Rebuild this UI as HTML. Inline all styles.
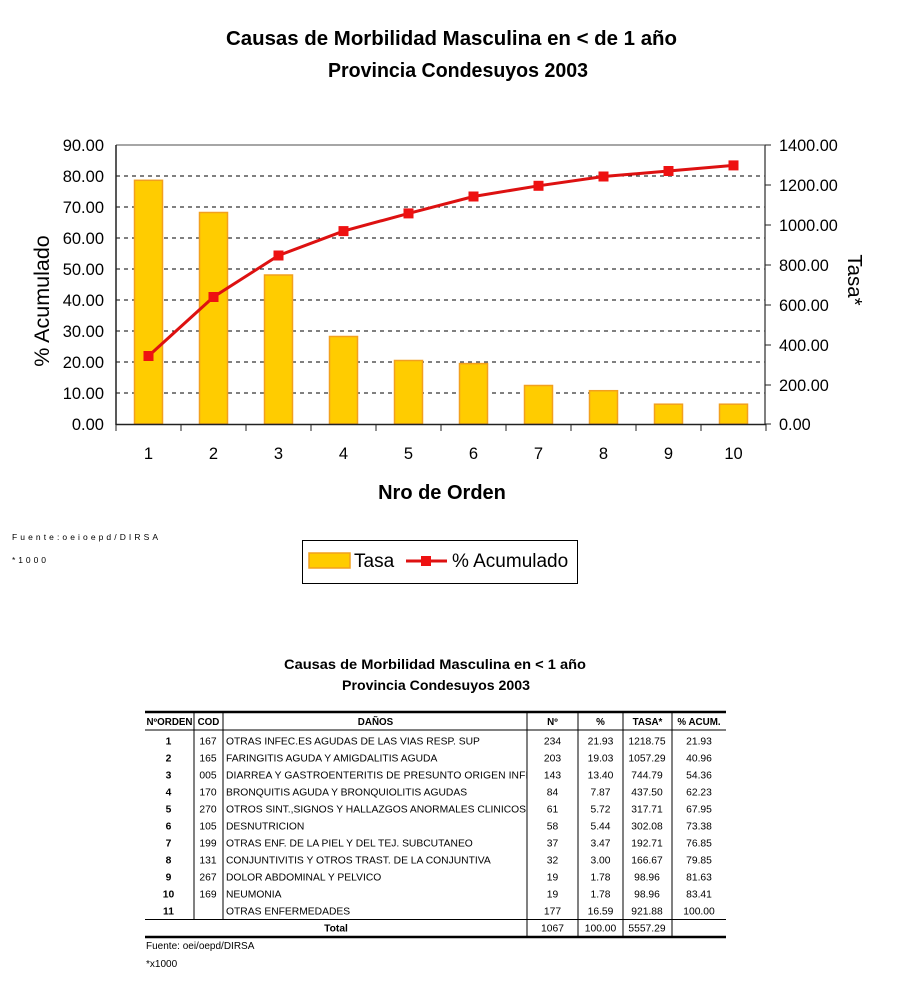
<!DOCTYPE html>
<html><head><meta charset="utf-8"><style>
html,body{margin:0;padding:0;background:#fff;}
svg{display:block;font-family:"Liberation Sans",Arial,sans-serif;}
</style></head><body>
<svg width="900" height="1000" viewBox="0 0 900 1000" xmlns="http://www.w3.org/2000/svg">
<rect width="900" height="1000" fill="#fff"/>
<!-- Titles -->
<text x="226" y="45" font-size="20" font-weight="bold" textLength="451" lengthAdjust="spacingAndGlyphs">Causas de Morbilidad Masculina en &lt; de 1 año</text>
<text x="328" y="77" font-size="20" font-weight="bold" textLength="260" lengthAdjust="spacingAndGlyphs">Provincia Condesuyos 2003</text>

<!-- gridlines -->
<g stroke="#000" stroke-width="1" stroke-dasharray="4,4">
<line x1="116" y1="176" x2="765" y2="176"/>
<line x1="116" y1="207" x2="765" y2="207"/>
<line x1="116" y1="238" x2="765" y2="238"/>
<line x1="116" y1="269" x2="765" y2="269"/>
<line x1="116" y1="300" x2="765" y2="300"/>
<line x1="116" y1="331" x2="765" y2="331"/>
<line x1="116" y1="362" x2="765" y2="362"/>
<line x1="116" y1="393" x2="765" y2="393"/>
</g>
<!-- plot border -->
<line x1="116" y1="145" x2="765" y2="145" stroke="#888" stroke-width="1.5"/>
<line x1="765" y1="145" x2="765" y2="425" stroke="#555" stroke-width="1.5"/>

<!-- bars -->
<g fill="#ffcc00" stroke="#f2a01e" stroke-width="1.5">
<rect x="134.5" y="180.3" width="28" height="243.7"/>
<rect x="199.5" y="212.5" width="28" height="211.5"/>
<rect x="264.5" y="275" width="28" height="149"/>
<rect x="329.5" y="336.5" width="28" height="87.5"/>
<rect x="394.5" y="360.5" width="28" height="63.5"/>
<rect x="459.5" y="363.6" width="28" height="60.4"/>
<rect x="524.5" y="385.5" width="28" height="38.5"/>
<rect x="589.5" y="390.7" width="28" height="33.3"/>
<rect x="654.5" y="404.2" width="28" height="19.8"/>
<rect x="719.5" y="404.2" width="28" height="19.8"/>
</g>

<!-- axes -->
<line x1="116" y1="145" x2="116" y2="425" stroke="#222" stroke-width="1.5"/>
<line x1="116" y1="424.5" x2="766" y2="424.5" stroke="#222" stroke-width="1.5"/>
<g stroke="#222" stroke-width="1">
<line x1="116" y1="424" x2="116" y2="431"/>
<line x1="181" y1="424" x2="181" y2="431"/>
<line x1="246" y1="424" x2="246" y2="431"/>
<line x1="311" y1="424" x2="311" y2="431"/>
<line x1="376" y1="424" x2="376" y2="431"/>
<line x1="441" y1="424" x2="441" y2="431"/>
<line x1="506" y1="424" x2="506" y2="431"/>
<line x1="571" y1="424" x2="571" y2="431"/>
<line x1="636" y1="424" x2="636" y2="431"/>
<line x1="701" y1="424" x2="701" y2="431"/>
<line x1="766" y1="424" x2="766" y2="431"/>
<line x1="765" y1="145" x2="771" y2="145"/>
<line x1="765" y1="185" x2="771" y2="185"/>
<line x1="765" y1="225" x2="771" y2="225"/>
<line x1="765" y1="265" x2="771" y2="265"/>
<line x1="765" y1="305" x2="771" y2="305"/>
<line x1="765" y1="345" x2="771" y2="345"/>
<line x1="765" y1="385" x2="771" y2="385"/>
<line x1="765" y1="424" x2="771" y2="424"/>
</g>

<!-- line series -->
<polyline fill="none" stroke="#dd1111" stroke-width="3" points="148.5,356 213.5,297 278.5,255.5 343.5,231.1 408.5,213.4 473.5,196.5 538.5,185.8 603.5,176.5 668.5,171 733.5,165.4"/>
<g fill="#ee1111">
<rect x="143.5" y="351" width="10" height="10"/>
<rect x="208.5" y="292" width="10" height="10"/>
<rect x="273.5" y="250.5" width="10" height="10"/>
<rect x="338.5" y="226.1" width="10" height="10"/>
<rect x="403.5" y="208.4" width="10" height="10"/>
<rect x="468.5" y="191.5" width="10" height="10"/>
<rect x="533.5" y="180.8" width="10" height="10"/>
<rect x="598.5" y="171.5" width="10" height="10"/>
<rect x="663.5" y="166" width="10" height="10"/>
<rect x="728.5" y="160.4" width="10" height="10"/>
</g>

<!-- left tick labels -->
<g font-size="16.5" text-anchor="end">
<text x="104" y="151">90.00</text>
<text x="104" y="182">80.00</text>
<text x="104" y="213">70.00</text>
<text x="104" y="244">60.00</text>
<text x="104" y="275">50.00</text>
<text x="104" y="306">40.00</text>
<text x="104" y="337">30.00</text>
<text x="104" y="368">20.00</text>
<text x="104" y="399">10.00</text>
<text x="104" y="430">0.00</text>
</g>
<!-- right tick labels -->
<g font-size="16.3">
<text x="779" y="151">1400.00</text>
<text x="779" y="191">1200.00</text>
<text x="779" y="231">1000.00</text>
<text x="779" y="271">800.00</text>
<text x="779" y="311">600.00</text>
<text x="779" y="351">400.00</text>
<text x="779" y="391">200.00</text>
<text x="779" y="430">0.00</text>
</g>
<!-- x labels -->
<g font-size="16.5" text-anchor="middle">
<text x="148.5" y="459">1</text>
<text x="213.5" y="459">2</text>
<text x="278.5" y="459">3</text>
<text x="343.5" y="459">4</text>
<text x="408.5" y="459">5</text>
<text x="473.5" y="459">6</text>
<text x="538.5" y="459">7</text>
<text x="603.5" y="459">8</text>
<text x="668.5" y="459">9</text>
<text x="733.5" y="459">10</text>
</g>
<text x="442" y="499" font-size="20" font-weight="bold" text-anchor="middle">Nro de Orden</text>
<text transform="translate(49,301) rotate(-90)" font-size="21.5" text-anchor="middle">% Acumulado</text>
<text transform="translate(848,280) rotate(90)" font-size="20.5" text-anchor="middle">Tasa*</text>

<!-- source notes -->
<text x="12" y="540" font-size="8.5" textLength="146" lengthAdjust="spacing">Fuente:oeioepd/DIRSA</text>
<text x="12" y="563" font-size="8.5" textLength="34" lengthAdjust="spacing">*1000</text>

<!-- legend -->
<rect x="302.5" y="540.5" width="275" height="43" fill="#fff" stroke="#000" stroke-width="1"/>
<rect x="309" y="553" width="41" height="15" fill="#ffcc00" stroke="#f2a01e" stroke-width="1.5"/>
<text x="354" y="567" font-size="19">Tasa</text>
<line x1="406" y1="561" x2="447" y2="561" stroke="#dd1111" stroke-width="3"/>
<rect x="421" y="556" width="10" height="10" fill="#ee1111"/>
<text x="452" y="567" font-size="19">% Acumulado</text>

<!-- Table titles -->
<text x="284" y="669" font-size="14" font-weight="bold" textLength="302" lengthAdjust="spacingAndGlyphs">Causas de Morbilidad Masculina en &lt; 1 año</text>
<text x="342" y="690" font-size="14" font-weight="bold" textLength="188" lengthAdjust="spacingAndGlyphs">Provincia Condesuyos 2003</text>

<defs><clipPath id="dc"><rect x="224" y="700" width="302.5" height="230"/></clipPath></defs>

<!-- table lines -->
<line x1="145" y1="712" x2="726" y2="712" stroke="#000" stroke-width="2.5"/>
<line x1="145" y1="730" x2="726" y2="730" stroke="#000" stroke-width="1"/>
<line x1="145" y1="919.5" x2="726" y2="919.5" stroke="#000" stroke-width="1"/>
<line x1="145" y1="937" x2="726" y2="937" stroke="#000" stroke-width="2.5"/>
<g stroke="#000" stroke-width="1">
<line x1="194" y1="713" x2="194" y2="919.5"/>
<line x1="223" y1="713" x2="223" y2="919.5"/>
<line x1="527" y1="713" x2="527" y2="936"/>
<line x1="578" y1="713" x2="578" y2="936"/>
<line x1="623" y1="713" x2="623" y2="936"/>
<line x1="672" y1="713" x2="672" y2="936"/>
</g>

<!-- header -->
<g font-size="9.8" font-weight="bold" text-anchor="middle">
<text x="169.5" y="725">NºORDEN</text>
<text x="208.5" y="725">COD</text>
<text x="375.5" y="725">DAÑOS</text>
<text x="552.5" y="725">Nº</text>
<text x="600.5" y="725">%</text>
<text x="647.5" y="725">TASA*</text>
<text x="699" y="725">% ACUM.</text>
</g>

<!-- rows -->
<g font-size="10.3" font-weight="bold" text-anchor="middle">
<text x="168.5" y="744.7">1</text>
<text x="168.5" y="761.7">2</text>
<text x="168.5" y="778.7">3</text>
<text x="168.5" y="795.7">4</text>
<text x="168.5" y="812.7">5</text>
<text x="168.5" y="829.7">6</text>
<text x="168.5" y="846.7">7</text>
<text x="168.5" y="863.7">8</text>
<text x="168.5" y="880.7">9</text>
<text x="168.5" y="897.7">10</text>
<text x="168.5" y="914.7">11</text>
</g>
<g font-size="10.3" text-anchor="middle">
<text x="208" y="744.7">167</text>
<text x="208" y="761.7">165</text>
<text x="208" y="778.7">005</text>
<text x="208" y="795.7">170</text>
<text x="208" y="812.7">270</text>
<text x="208" y="829.7">105</text>
<text x="208" y="846.7">199</text>
<text x="208" y="863.7">131</text>
<text x="208" y="880.7">267</text>
<text x="208" y="897.7">169</text>
</g>
<g font-size="10.3" clip-path="url(#dc)">
<text x="226" y="744.7">OTRAS INFEC.ES AGUDAS DE LAS VIAS RESP. SUP</text>
<text x="226" y="761.7">FARINGITIS AGUDA Y AMIGDALITIS AGUDA</text>
<text x="226" y="778.7" letter-spacing="0.1">DIARREA Y GASTROENTERITIS DE PRESUNTO ORIGEN INFECCIOSO</text>
<text x="226" y="795.7">BRONQUITIS AGUDA Y BRONQUIOLITIS AGUDAS</text>
<text x="226" y="812.7">OTROS SINT.,SIGNOS Y HALLAZGOS ANORMALES CLINICOS</text>
<text x="226" y="829.7">DESNUTRICION</text>
<text x="226" y="846.7">OTRAS ENF. DE LA PIEL Y DEL TEJ. SUBCUTANEO</text>
<text x="226" y="863.7">CONJUNTIVITIS Y OTROS TRAST. DE LA CONJUNTIVA</text>
<text x="226" y="880.7">DOLOR ABDOMINAL Y PELVICO</text>
<text x="226" y="897.7">NEUMONIA</text>
<text x="226" y="914.7">OTRAS ENFERMEDADES</text>
</g>
<g font-size="10.3" text-anchor="middle">
<text x="552.5" y="744.7">234</text><text x="600.5" y="744.7">21.93</text><text x="647" y="744.7">1218.75</text><text x="699" y="744.7">21.93</text>
<text x="552.5" y="761.7">203</text><text x="600.5" y="761.7">19.03</text><text x="647" y="761.7">1057.29</text><text x="699" y="761.7">40.96</text>
<text x="552.5" y="778.7">143</text><text x="600.5" y="778.7">13.40</text><text x="647" y="778.7">744.79</text><text x="699" y="778.7">54.36</text>
<text x="552.5" y="795.7">84</text><text x="600.5" y="795.7">7.87</text><text x="647" y="795.7">437.50</text><text x="699" y="795.7">62.23</text>
<text x="552.5" y="812.7">61</text><text x="600.5" y="812.7">5.72</text><text x="647" y="812.7">317.71</text><text x="699" y="812.7">67.95</text>
<text x="552.5" y="829.7">58</text><text x="600.5" y="829.7">5.44</text><text x="647" y="829.7">302.08</text><text x="699" y="829.7">73.38</text>
<text x="552.5" y="846.7">37</text><text x="600.5" y="846.7">3.47</text><text x="647" y="846.7">192.71</text><text x="699" y="846.7">76.85</text>
<text x="552.5" y="863.7">32</text><text x="600.5" y="863.7">3.00</text><text x="647" y="863.7">166.67</text><text x="699" y="863.7">79.85</text>
<text x="552.5" y="880.7">19</text><text x="600.5" y="880.7">1.78</text><text x="647" y="880.7">98.96</text><text x="699" y="880.7">81.63</text>
<text x="552.5" y="897.7">19</text><text x="600.5" y="897.7">1.78</text><text x="647" y="897.7">98.96</text><text x="699" y="897.7">83.41</text>
<text x="552.5" y="914.7">177</text><text x="600.5" y="914.7">16.59</text><text x="647" y="914.7">921.88</text><text x="699" y="914.7">100.00</text>
<text x="552.5" y="931.7">1067</text><text x="600.5" y="931.7">100.00</text><text x="647" y="931.7">5557.29</text>
</g>
<text x="336" y="931.7" font-size="10.3" font-weight="bold" text-anchor="middle">Total</text>

<text x="146" y="949" font-size="10">Fuente: oei/oepd/DIRSA</text>
<text x="146" y="967" font-size="10">*x1000</text>
</svg>
</body></html>
